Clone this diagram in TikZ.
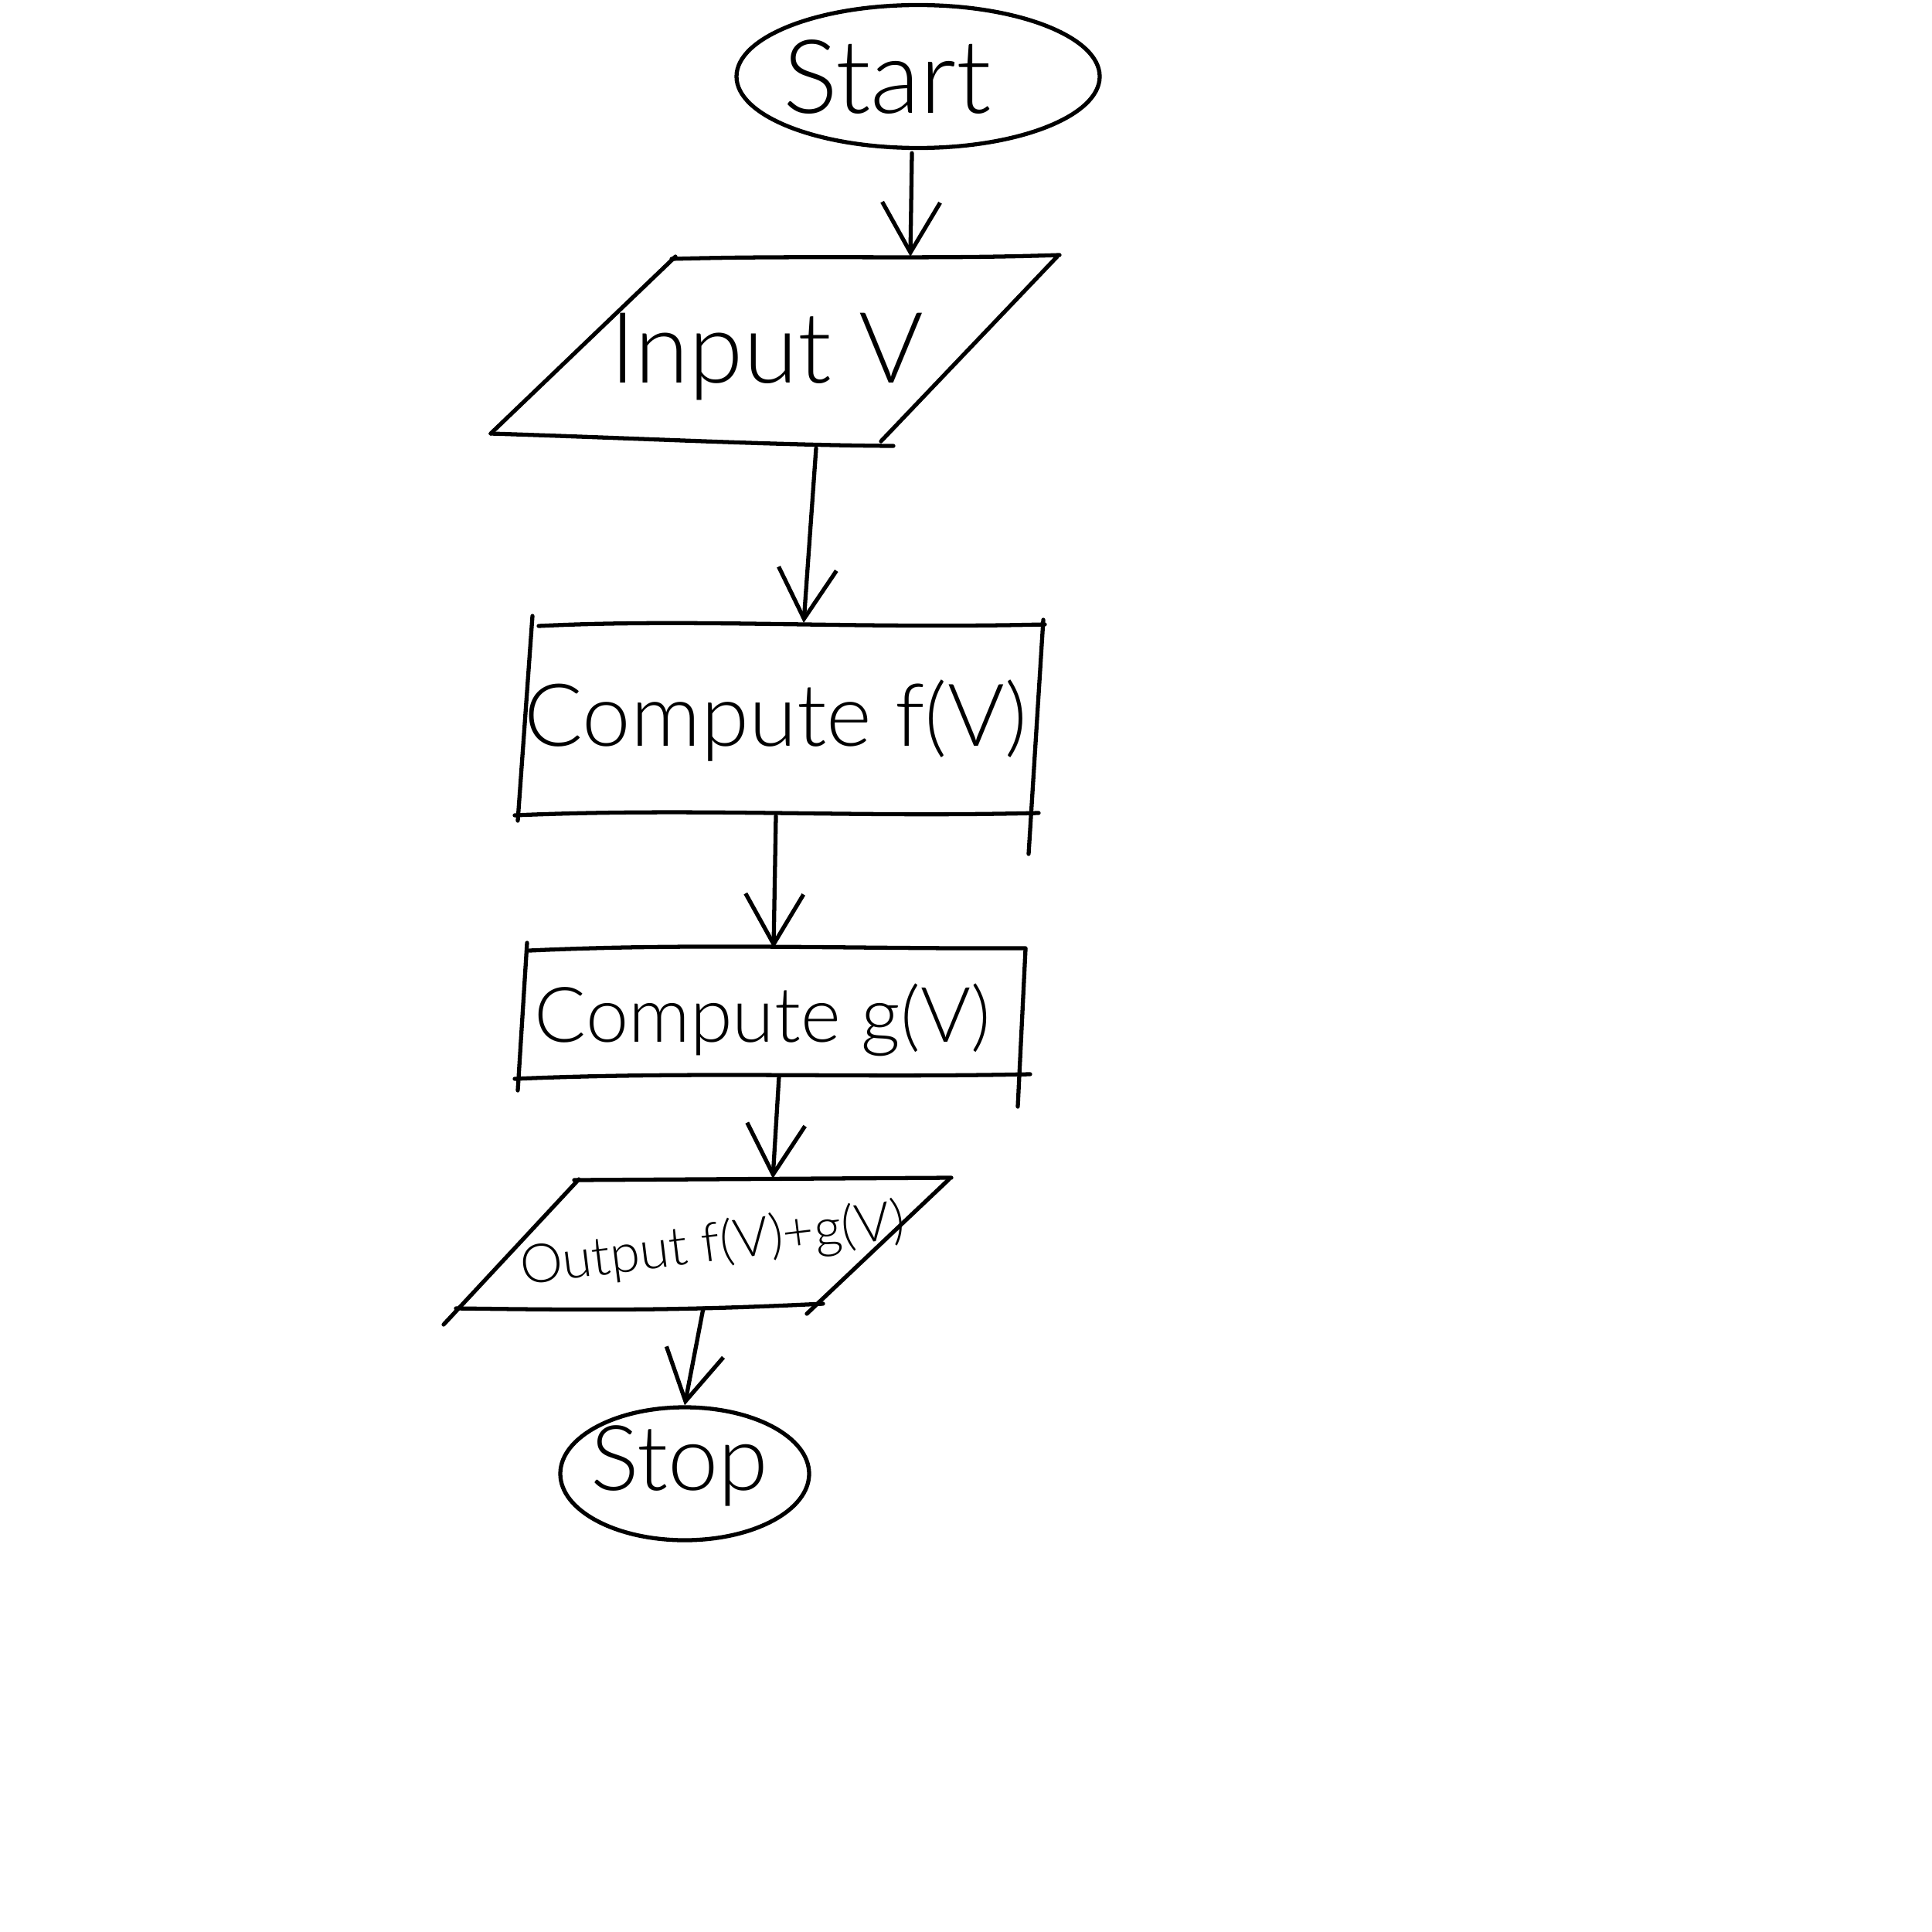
\documentclass[tikz,border=0pt]{standalone}
\usepackage{fontspec}
\setmainfont{Lato Light}
\usepackage{graphicx}
\usetikzlibrary{arrows.meta,shapes.geometric}

\tikzset{
  stroke/.style={line width=1.5pt, line cap=round, line join=round},
  flow/.style={stroke, -{Straight Barb[length=6.5mm,width=7.5mm,line width=1.5pt]}},
  terminal/.style={stroke, draw, ellipse, inner sep=0pt},
  lbl/.style={inner sep=0pt, anchor=center}
}

% scale a label to a given width
\newcommand{\wlabel}[2]{\resizebox{#1}{!}{#2}}

\begin{document}
\begin{tikzpicture}
  \useasboundingbox (0,0) rectangle (25,-25);
  \fill[white] (0,0) rectangle (25,-25);

  % ---- Start ----
  \node[terminal, minimum width=4.7cm, minimum height=1.85cm] (start) at (11.88,-0.99) {};
  \node[lbl] (startlbl) at (11.48,-1.00) {\wlabel{2.7cm}{Start}};

  % ---- Input parallelogram ----
  \draw[stroke] (8.69,-3.35) .. controls (10.5,-3.30) and (12.0,-3.36) .. (13.71,-3.30);
  \draw[stroke] (8.74,-3.32) -- (6.35,-5.61);
  \draw[stroke] (6.35,-5.61) .. controls (8.5,-5.68) and (10.0,-5.76) .. (11.56,-5.77);
  \draw[stroke] (13.68,-3.32) -- (11.40,-5.71);
  \coordinate (in-t) at (11.78,-3.32);
  \coordinate (in-b) at (10.56,-5.80);
  \node[lbl] (inlbl) at (9.92,-4.62) {\wlabel{4.05cm}{Input V}};

  % ---- Compute f(V) box ----
  \draw[stroke] (6.97,-8.10) .. controls (9.0,-8.00) and (11.0,-8.14) .. (13.52,-8.08);
  \draw[stroke] (6.89,-7.97) -- (6.70,-10.62);
  \draw[stroke] (13.50,-8.02) -- (13.31,-11.05);
  \draw[stroke] (6.66,-10.55) .. controls (9.0,-10.45) and (11.0,-10.58) .. (13.44,-10.52);
  \coordinate (cf-t) at (10.40,-8.06);
  \coordinate (cf-b) at (10.04,-10.56);
  \node[lbl] (cflbl) at (10.04,-9.32) {\wlabel{6.5cm}{Compute f(V)}};

  % ---- Compute g(V) box ----
  \draw[stroke] (6.85,-12.30) .. controls (9.0,-12.20) and (11.0,-12.28) .. (13.27,-12.27);
  \draw[stroke] (6.82,-12.20) -- (6.70,-14.11);
  \draw[stroke] (13.27,-12.28) -- (13.17,-14.32);
  \draw[stroke] (6.66,-13.96) .. controls (9.0,-13.86) and (11.0,-13.95) .. (13.33,-13.90);
  \coordinate (cg-t) at (10.01,-12.27);
  \coordinate (cg-b) at (10.08,-13.93);
  \node[lbl] (cglbl) at (9.87,-13.20) {\wlabel{5.9cm}{Compute g(V)}};

  % ---- Output parallelogram ----
  \draw[stroke] (7.43,-15.27) -- (12.31,-15.24);
  \draw[stroke] (7.49,-15.26) -- (5.74,-17.14);
  \draw[stroke] (5.90,-16.93) .. controls (8.0,-16.96) and (9.0,-16.95) .. (10.65,-16.87);
  \draw[stroke] (12.28,-15.26) -- (10.44,-17.00);
  \coordinate (out-t) at (10.00,-15.25);
  \coordinate (out-b) at (9.10,-16.93);
  \node[lbl, rotate=7] (outlbl) at (9.22,-16.12) {\wlabel{5.0cm}{Output f(V)+g(V)}};

  % ---- Stop ----
  \node[terminal, minimum width=3.22cm, minimum height=1.72cm] (stop) at (8.86,-19.07) {};
  \node[lbl] (stoplbl) at (8.79,-18.97) {\wlabel{2.3cm}{Stop}};

  % ---- connectors ----
  \draw[flow] ([xshift=-0.08cm,yshift=-0.04cm]start.south) -- (in-t);
  \draw[flow] (in-b) -- (cf-t);
  \draw[flow] (cf-b) -- (cg-t);
  \draw[flow] (cg-b) -- (out-t);
  \draw[flow] (out-b) -- (stop.north);
\end{tikzpicture}
\end{document}
